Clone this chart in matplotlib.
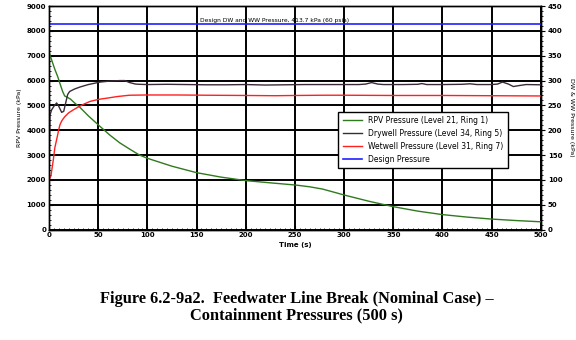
import numpy as np
import matplotlib.pyplot as plt
from matplotlib.ticker import MultipleLocator

# RPV pressure (kPa, left axis)
t_rpv = [0, 3, 6, 9, 11, 14, 16, 19, 22, 26, 31, 40, 52, 62, 72, 82, 92, 100, 125, 150,
         175, 200, 225, 251, 265, 278, 290, 300, 325, 350, 375, 400, 425, 450, 475, 500]
p_rpv = [7150, 6800, 6450, 6150, 5900, 5550, 5380, 5320, 5250, 5100, 4940, 4580, 4150, 3800,
         3490, 3240, 3000, 2870, 2550, 2290, 2110, 1970, 1880, 1790, 1720, 1630, 1500, 1390,
         1140, 920, 740, 600, 500, 420, 360, 310]

# Drywell pressure (kPa, right axis)
t_dw = [0, 1, 2.7, 5, 7.8, 10, 12.9, 15, 17, 19, 21, 26, 31.5, 40, 52, 62, 72, 77, 82, 88,
        92, 100, 120, 140, 160, 180, 200, 220, 240, 260, 280, 300, 315, 322, 328, 334, 340,
        360, 375, 379, 384, 400, 420, 428, 435, 450, 456, 461, 467, 472, 478, 485, 500]
p_dw = [100, 230, 241, 248, 255, 248, 236, 238, 255, 272, 278, 283, 287, 292, 297, 299, 300,
        300, 296, 293, 292.5, 292, 292.5, 292, 291.5, 291.5, 292, 291, 291.5, 292, 292, 292,
        292, 293, 296, 293, 292, 292, 292.5, 294, 292, 292, 292.5, 293.5, 292, 292, 293, 297,
        293, 288, 290, 292, 291.5]

# Wetwell pressure (kPa, right axis)
t_ww = [0, 2, 4.4, 6, 7.8, 9.5, 11, 13, 16, 20, 24.7, 30, 36, 41.7, 50, 58.6, 70, 82, 100,
        130, 160, 200, 230, 250, 280, 300, 350, 400, 450, 500]
p_ww = [100, 108, 140, 165, 181, 197, 210, 219, 227, 235, 241, 247, 253, 258, 262, 264.5,
        268, 270.5, 271, 271, 270.5, 270, 269.5, 270, 270.5, 270.5, 270, 270, 269.5, 269]

design_p = 413.7

fig = plt.figure(figsize=(5.76, 3.4), dpi=100)
ax = fig.add_axes([0.085, 0.325, 0.854, 0.657])
ax2 = ax.twinx()

ax.set_xlim(0, 500)
ax.set_ylim(0, 9000)
ax2.set_ylim(0, 450)

ax.grid(True, color='black', linewidth=1.4)
ax.set_axisbelow(True)

l1, = ax.plot(t_rpv, p_rpv, color='#2f7a1f', lw=1.0, zorder=3)
l2, = ax2.plot(t_dw, p_dw, color='#3b2a38', lw=1.0)
l3, = ax2.plot(t_ww, p_ww, color='#ff2020', lw=1.0)
l4 = ax2.axhline(design_p, color='#2020ff', lw=1.2)

ax2.text(229, design_p + 2, 'Design DW and WW Pressure, 413.7 kPa (60 psia)',
         ha='center', va='bottom', fontsize=4.3)

ax.xaxis.set_major_locator(MultipleLocator(50))
ax.xaxis.set_minor_locator(MultipleLocator(5))
ax.yaxis.set_major_locator(MultipleLocator(1000))
ax.yaxis.set_minor_locator(MultipleLocator(200))
ax2.yaxis.set_major_locator(MultipleLocator(50))
ax2.yaxis.set_minor_locator(MultipleLocator(10))

ax.tick_params(axis='both', which='major', labelsize=5, length=3, direction='in', pad=2)
ax.tick_params(axis='both', which='minor', length=1.5, direction='in')
ax2.tick_params(axis='y', which='major', labelsize=5, length=3, direction='out', pad=2)
ax2.tick_params(axis='y', which='minor', length=1.5, direction='out')

for a in (ax, ax2):
    for s in a.spines.values():
        s.set_linewidth(1.0)
    for lab in a.get_xticklabels() + a.get_yticklabels():
        lab.set_fontweight('bold')

ax.set_xlabel('Time (s)', fontsize=5, fontweight='bold', labelpad=3)
ax.set_ylabel('RPV Pressure (kPa)', fontsize=4.5, labelpad=3)
ax2.set_ylabel('DW & WW Pressure (kPa)', fontsize=4.5, rotation=270, labelpad=8)

leg = ax2.legend([l1, l2, l3, l4],
                 ['RPV Pressure (Level 21, Ring 1)', 'Drywell Pressure (Level 34, Ring 5)',
                  'Wetwell Pressure (Level 31, Ring 7)', 'Design Pressure'],
                 loc='upper left', bbox_to_anchor=(0.58, 0.545), fontsize=5.5,
                 frameon=True, fancybox=False, edgecolor='black', framealpha=1,
                 handlelength=2.5, borderpad=0.6, labelspacing=0.5)
leg.get_frame().set_linewidth(1.0)

fig.text(0.515, 0.097, 'Figure 6.2-9a2.  Feedwater Line Break (Nominal Case) \u2013\n'
         'Containment Pressures (500 s)', ha='center', va='center',
         fontsize=11.8, fontweight='bold', family='Liberation Serif', linespacing=1.05)

fig.savefig('out.png', dpi=100)
